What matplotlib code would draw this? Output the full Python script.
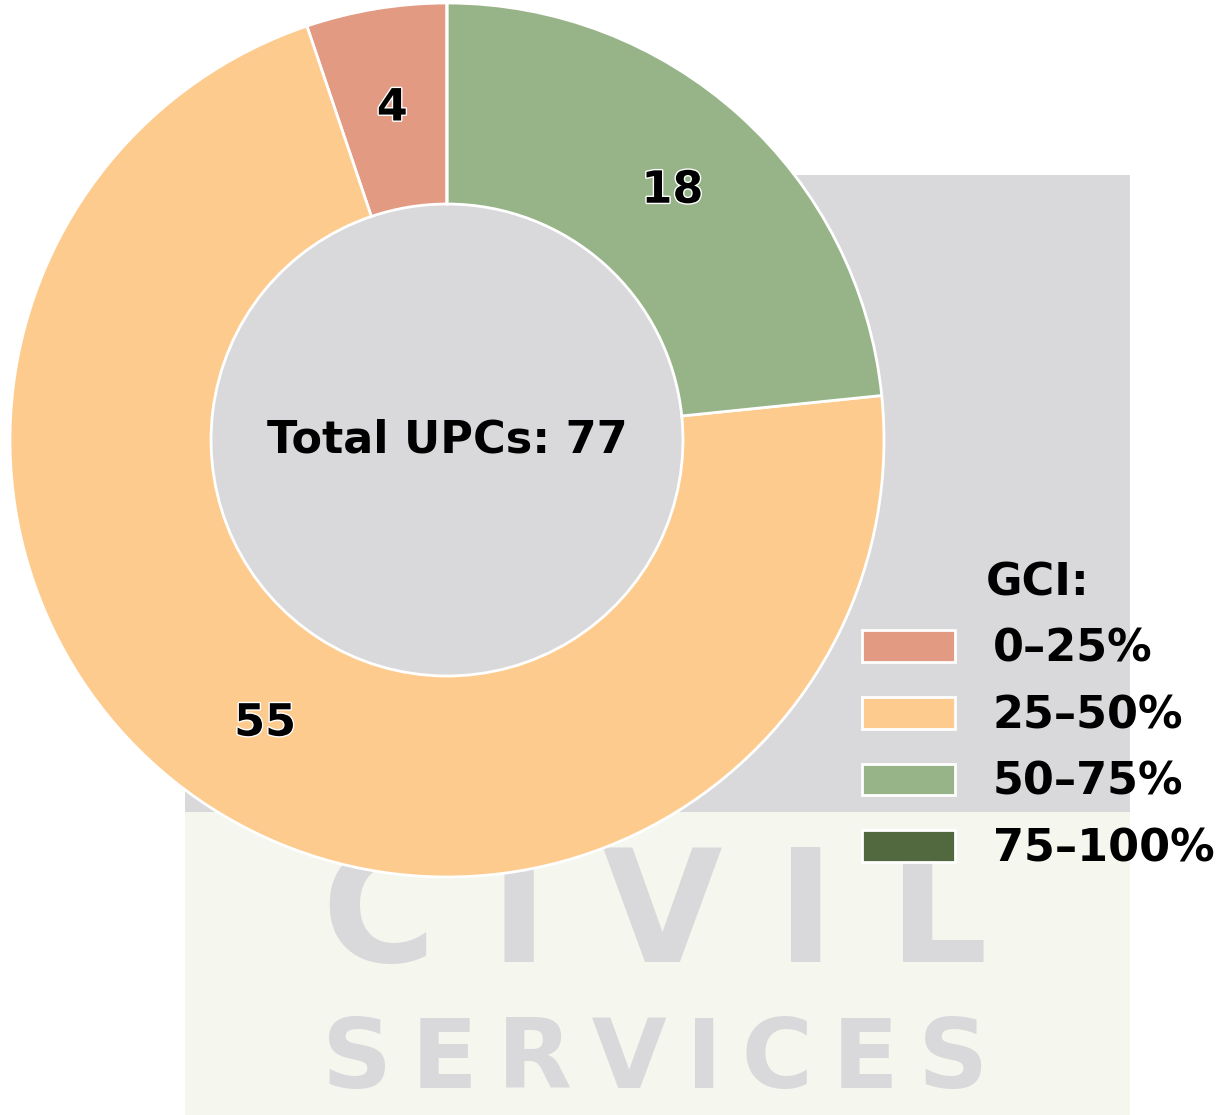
import matplotlib.pyplot as plt
import matplotlib.patheffects as pe
from matplotlib.patches import Rectangle

# GCI bands and number of UPCs in each
gci_bands = ['0–25%', '25–50%', '50–75%', '75–100%']
upc_counts = [4, 55, 18, 0]
band_colors = ['#E29A82', '#FECB8E', '#97B488', '#52683E']
total_upcs = sum(upc_counts)

fig = plt.figure(figsize=(12.28, 11.15), dpi=100)

# faint watermark behind the chart
bg = fig.add_axes([0, 0, 1, 1], zorder=0)
bg.set_xlim(0, 1228)
bg.set_ylim(1115, 0)
bg.axis('off')
bg.add_patch(Rectangle((185, 175), 945, 637, color='#D9D9DC', lw=0))
bg.add_patch(Rectangle((185, 812), 945, 303, color='#F5F6EE', lw=0))
bg.text(655, 962, 'C I V I L', fontsize=112, fontweight='bold', color='#D9D9DC',
        ha='center', va='baseline')
bg.text(655, 1088, '\u2009'.join('SERVICES'), fontsize=70, fontweight='bold',
        color='#D9D9DC', ha='center', va='baseline')

# donut
ax = fig.add_axes([10 / 1228, 238 / 1115, 874 / 1228, 874 / 1115], zorder=1)
wedges, texts, autotexts = ax.pie(
    upc_counts,
    colors=band_colors,
    startangle=90,
    autopct=lambda p: f'{round(p * total_upcs / 100):d}' if p > 0 else '',
    pctdistance=0.77,
    wedgeprops=dict(width=0.46, edgecolor='white', linewidth=2),
    textprops=dict(fontsize=32, fontweight='bold', color='black'),
)
for t in autotexts:
    t.set_path_effects([pe.withStroke(linewidth=2, foreground='white')])
ax.set_xlim(-1, 1)
ax.set_ylim(-1, 1)
ax.set_aspect('equal')
ax.axis('off')

ax.text(0, 0, f'Total UPCs: {total_upcs}', ha='center', va='center',
        fontsize=32, fontweight='bold')

leg = fig.legend(wedges, gci_bands, title='GCI:', loc='center left',
                 bbox_to_anchor=(0.669, 0.358), frameon=False,
                 prop=dict(size=32, weight='bold'),
                 title_fontproperties=dict(size=32, weight='bold'),
                 handlelength=2.1, handleheight=0.72,
                 handletextpad=0.85, labelspacing=0.53)
leg.set_zorder(2)

fig.savefig('out.png', dpi=100)
